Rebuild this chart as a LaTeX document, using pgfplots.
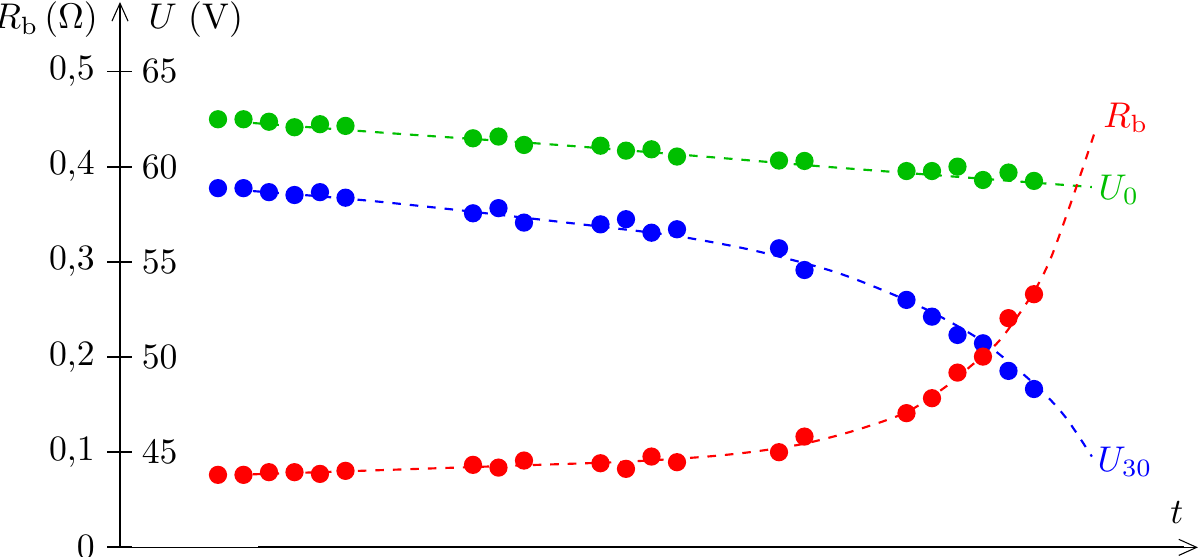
\documentclass[border=0pt]{standalone}
\usepackage{pgfplots}
\pgfplotsset{compat=1.18}
\usepackage{pgfplotstable}
\usetikzlibrary{arrows.meta}
\definecolor{cgreen}{RGB}{0,191,0}
\definecolor{cred}{RGB}{255,0,0}
\definecolor{cblue}{RGB}{0,0,255}

% measured points: t index, U0 (V), U30 (V), Rb (Ohm)
\pgfplotstableread{
t  U0     U30    Rb
0  62.49  58.87  0.0762
1  62.49  58.87  0.0762
2  62.36  58.66  0.0790
3  62.07  58.51  0.0790
4  62.23  58.66  0.0772
5  62.14  58.37  0.0804
10 61.49  57.55  0.0867
11 61.58  57.82  0.0838
12 61.14  57.06  0.0912
15 61.10  56.97  0.0884
16 60.84  57.24  0.0825
17 60.91  56.53  0.0954
18 60.53  56.71  0.0895
22 60.32  55.71  0.1000
23 60.30  54.57  0.1164
27 59.77  53.00  0.1410
28 59.77  52.12  0.1567
29 60.00  51.16  0.1836
30 59.30  50.72  0.2004
31 59.69  49.27  0.2408
32 59.25  48.32  0.2660
}\meas

\pgfplotstableread{
t     U
0     62.43
7.14  61.72
12.94 61.18
18.78 60.56
24.27 59.95
34.27 58.93
}\fitgreen

\pgfplotstableread{
t     U
0     58.85
3     58.55
6     58.20
9     57.78
12    57.32
15    56.85
18    56.35
21    55.60
24    54.55
26    53.55
28    52.35
30    50.80
32    48.60
33.2  46.90
34.27 44.77
}\fitblue

\pgfplotstableread{
t     R
0     0.0756
4     0.0790
8     0.0826
12    0.0862
16    0.0900
19    0.0950
21    0.1005
23    0.1090
25    0.1230
27    0.1420
28.5  0.1680
29.5  0.1900
30.67 0.2180
31.96 0.2670
32.63 0.3020
33.29 0.3500
33.92 0.3990
34.39 0.4368
}\fitred

\begin{document}
\begin{tikzpicture}
\begin{axis}[
  scale only axis,
  width=301.9pt, height=152.75pt,
  xmin=-3.843, xmax=38.43,
  ymin=0, ymax=0.573,
  axis x line=bottom, axis y line=left,
  axis line style={line width=0.3pt, -{Straight Barb[length=5pt,width=4.5pt]}},
  xtick=\empty,
  ytick={0,0.1,0.2,0.3,0.4,0.5},
  yticklabels={$0$,$0{,}1$,$0{,}2$,$0{,}3$,$0{,}4$,$0{,}5$},
  tick align=center,
  major tick length=7pt,
  tick style={line width=0.5pt, black},
  yticklabel style={anchor=east, inner sep=0pt, xshift=-3.4pt},
  clip=false,
  every axis plot/.append style={line width=0.6pt},
]
% thick parts of the axis lines
\draw[line width=0.6pt] (axis cs:-3.843,0) -- (axis cs:-3.843,0.476);
\draw[line width=0.6pt] (axis cs:1.57,0) -- (axis cs:37.9,0);

\addplot[only marks, mark=*, mark size=2.25pt, color=cgreen]
  table[x=t, y expr=(\thisrow{U0}-40)/50] {\meas};
\addplot[only marks, mark=*, mark size=2.25pt, color=cblue]
  table[x=t, y expr=(\thisrow{U30}-40)/50] {\meas};
\addplot[only marks, mark=*, mark size=2.25pt, color=cred]
  table[x=t, y=Rb] {\meas};

\addplot[cgreen, smooth, dash pattern=on 2.4pt off 2.5pt, no marks]
  table[x=t, y expr=(\thisrow{U}-40)/50] {\fitgreen};
\addplot[cblue, smooth, dash pattern=on 2.4pt off 2.5pt, no marks]
  table[x=t, y expr=(\thisrow{U}-40)/50] {\fitblue};
\addplot[cred, smooth, dash pattern=on 2.4pt off 2.5pt, no marks]
  table[x=t, y=R] {\fitred};

\node[cred, inner sep=0pt] at (axis cs:35.6,0.451) {$R_{\mathrm{b}}$};
\node[cgreen, inner sep=0pt] at (axis cs:35.33,0.3755) {$U_0$};
\node[cblue, inner sep=0pt] at (axis cs:35.57,0.0898) {$U_{30}$};

\node[anchor=east, inner sep=0pt] at ([xshift=-6pt,yshift=-5pt]rel axis cs:0,1) {$R_{\mathrm{b}}\,(\Omega)$};
\node[anchor=west, inner sep=0pt] at ([xshift=7.8pt,yshift=-5pt]rel axis cs:0,1) {$U$ (V)};
\node[inner sep=0pt] at ([xshift=-5.9pt,yshift=9.7pt]rel axis cs:1,0) {$t$};

\coordinate (BBsw) at (axis cs:-8.549,-0.00998);
\coordinate (BBne) at (axis cs:38.51,0.5751);
\end{axis}
\begin{axis}[
  scale only axis,
  width=301.9pt, height=152.75pt,
  xmin=-3.843, xmax=38.43,
  ymin=40, ymax=68.65,
  axis x line=none, axis y line=left,
  y axis line style={draw=none},
  xtick=\empty,
  ytick={45,50,55,60,65},
  major tick length=0pt,
  yticklabel style={anchor=west, inner sep=0pt, xshift=5.9pt},
]
\end{axis}
\pgfresetboundingbox
\path[use as bounding box] (BBsw) rectangle (BBne);
\end{tikzpicture}
\end{document}
